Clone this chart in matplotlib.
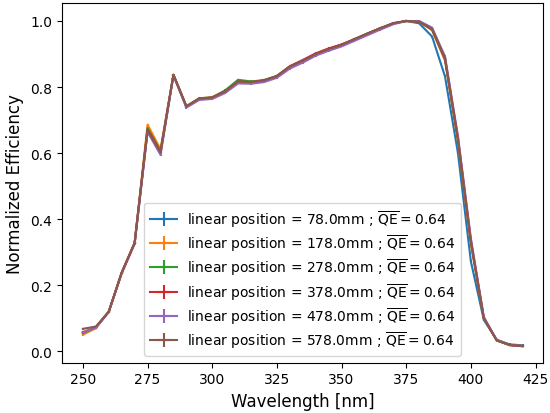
import matplotlib
matplotlib.use("Agg")
import matplotlib.pyplot as plt
import numpy as np

wavelength = [250, 255, 260, 265, 270, 275, 280, 285, 290, 295, 300, 305, 310, 315, 320,
              325, 330, 335, 340, 345, 350, 355, 360, 365, 370, 375, 380, 385, 390, 395,
              400, 405, 410, 415, 420]

positions_mm = [78.0, 178.0, 278.0, 378.0, 478.0, 578.0]
mean_qe = [0.64, 0.64, 0.64, 0.64, 0.64, 0.64]

eff_78 = [0.055, 0.072, 0.120, 0.238, 0.328, 0.668, 0.600, 0.837, 0.741, 0.765, 0.768, 0.787,
          0.817, 0.815, 0.820, 0.833, 0.862, 0.880, 0.900, 0.915, 0.928, 0.945, 0.962, 0.978,
          0.993, 1.000, 0.993, 0.953, 0.832, 0.600, 0.272, 0.095, 0.035, 0.021, 0.018]
eff_178 = [0.050, 0.070, 0.120, 0.238, 0.328, 0.686, 0.612, 0.837, 0.742, 0.766, 0.769, 0.788,
           0.818, 0.815, 0.820, 0.833, 0.862, 0.880, 0.900, 0.915, 0.928, 0.945, 0.962, 0.978,
           0.993, 1.000, 0.998, 0.972, 0.880, 0.635, 0.325, 0.100, 0.033, 0.019, 0.016]
eff_278 = [0.055, 0.072, 0.120, 0.238, 0.328, 0.676, 0.606, 0.837, 0.742, 0.766, 0.769, 0.790,
           0.822, 0.817, 0.821, 0.834, 0.862, 0.880, 0.900, 0.915, 0.928, 0.945, 0.962, 0.978,
           0.993, 1.000, 0.998, 0.974, 0.884, 0.640, 0.330, 0.100, 0.033, 0.019, 0.016]
eff_378 = [0.058, 0.072, 0.120, 0.238, 0.328, 0.672, 0.603, 0.837, 0.741, 0.765, 0.768, 0.787,
           0.817, 0.815, 0.820, 0.833, 0.863, 0.882, 0.902, 0.917, 0.929, 0.944, 0.961, 0.978,
           0.993, 1.000, 0.998, 0.975, 0.886, 0.642, 0.332, 0.100, 0.033, 0.019, 0.016]
eff_478 = [0.057, 0.071, 0.119, 0.236, 0.325, 0.664, 0.595, 0.835, 0.738, 0.761, 0.764, 0.782,
           0.811, 0.810, 0.815, 0.828, 0.856, 0.874, 0.895, 0.910, 0.923, 0.940, 0.957, 0.974,
           0.990, 1.000, 1.000, 0.980, 0.893, 0.652, 0.342, 0.104, 0.034, 0.019, 0.016]
eff_578 = [0.068, 0.075, 0.120, 0.238, 0.328, 0.670, 0.602, 0.837, 0.741, 0.765, 0.768, 0.787,
           0.817, 0.815, 0.820, 0.833, 0.862, 0.880, 0.900, 0.915, 0.928, 0.945, 0.962, 0.978,
           0.993, 1.000, 0.998, 0.976, 0.888, 0.645, 0.335, 0.101, 0.033, 0.019, 0.015]

efficiencies = [eff_78, eff_178, eff_278, eff_378, eff_478, eff_578]

fig = plt.figure(figsize=(5.5, 4.14), dpi=100)
ax = fig.add_axes([61.7 / 550, 1 - 363.7 / 414, (543.3 - 61.7) / 550, (363.7 - 3.5) / 414])

for pos, qe, eff in zip(positions_mm, mean_qe, efficiencies):
    ax.errorbar(wavelength, eff, xerr=0.3, yerr=0.003,
                label=r"linear position = %.1fmm ; $\overline{\rm QE} = %.2f$" % (pos, qe))

ax.set_xlim(241.8, 428.0)
ax.set_ylim(-0.0345, 1.056)
ax.set_xticks([250, 275, 300, 325, 350, 375, 400, 425])
ax.set_yticks([0.0, 0.2, 0.4, 0.6, 0.8, 1.0])
ax.set_xlabel("Wavelength [nm]", fontsize=12)
ax.set_ylabel("Normalized Efficiency", fontsize=12)
ax.legend(loc="lower center", fontsize=10, labelspacing=0.28, handletextpad=0.7)

fig.savefig("out.png", dpi=100)
